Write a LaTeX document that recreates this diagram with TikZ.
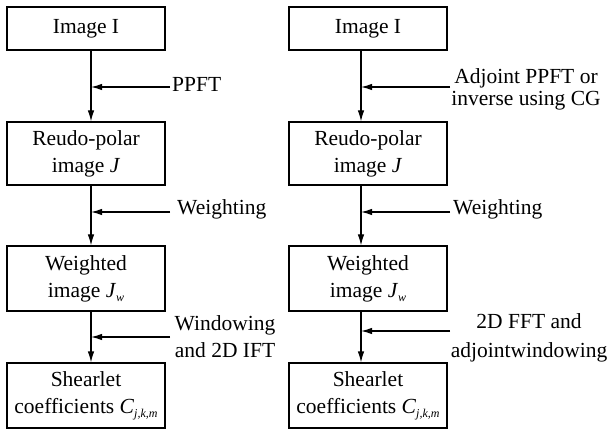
\documentclass[tikz,border=0pt]{standalone}
\usepackage{fontspec}
\setmainfont{Liberation Serif}
\usetikzlibrary{arrows.meta}
\newcommand{\subsc}[1]{\raisebox{-0.4ex}{\fontsize{12}{12}\selectfont\textit{#1}}}
\begin{document}
\begin{tikzpicture}[x=1pt,y=-1pt,
  box/.style={draw,line width=1.2pt,inner sep=0pt,align=center,
    font=\fontsize{21.5}{27}\selectfont,minimum width=158pt},
  lbl/.style={inner sep=0pt,align=center,font=\fontsize{21.5}{27}\selectfont},
  conn/.style={line width=1.2pt,-{Latex[length=11pt,width=6.5pt]}}]
\useasboundingbox[fill=white] (0,0) rectangle (607,430);
% left column
\node[box,minimum height=43pt] (l1) at (86,28.5) {Image I};
\node[box,minimum height=63pt] (l2) at (86,153.5) {Reudo-polar\\image \textit{J}};
\node[box,minimum height=65pt] (l3) at (86,278.5) {Weighted\\image \textit{J}\subsc{w}};
\node[box,minimum height=65pt] (l4) at (86,395.5) {Shearlet\\coefficients \textit{C}\subsc{j,k,m}};
% right column
\node[box,minimum height=43pt] (r1) at (368,28.5) {Image I};
\node[box,minimum height=63pt] (r2) at (368,153.5) {Reudo-polar\\image \textit{J}};
\node[box,minimum height=65pt] (r3) at (368,278.5) {Weighted\\image \textit{J}\subsc{w}};
\node[box,minimum height=65pt] (r4) at (368,395.5) {Shearlet\\coefficients \textit{C}\subsc{j,k,m}};
% column lines
\coordinate (lx) at (91,0);
\coordinate (rx) at (361,0);
\draw[conn] (l1.south -| lx) -- (l2.north -| lx);
\draw[conn] (l2.south -| lx) -- (l3.north -| lx);
\draw[conn] (l3.south -| lx) -- (l4.north -| lx);
\draw[conn] (r1.south -| rx) -- (r2.north -| rx);
\draw[conn] (r2.south -| rx) -- (r3.north -| rx);
\draw[conn] (r3.south -| rx) -- (r4.north -| rx);
% left labels
\node[lbl,anchor=west] (t1) at (172,84) {PPFT};
\node[lbl,anchor=west] (t2) at (177,209) {Weighting};
\node[lbl,font=\fontsize{21.5}{27}\selectfont] (t3) at (225,337) {Windowing\\and 2D IFT};
\coordinate (a1) at (170,87);
\coordinate (a2) at (170,212);
\coordinate (a3) at (170,337);
\draw[conn] (a1) -- (a1 -| lx);
\draw[conn] (a2) -- (a2 -| lx);
\draw[conn] (a3) -- (a3 -| lx);
% right labels
\node[lbl,font=\fontsize{21.5}{22}\selectfont] (s1) at (526,89) {Adjoint PPFT or\\inverse using CG};
\node[lbl,anchor=west] (s2) at (453,209) {Weighting};
\node[lbl,font=\fontsize{21.5}{29}\selectfont] (s3) at (529,337.5) {2D FFT and\\adjointwindowing};
\coordinate (b1) at (450,87);
\coordinate (b2) at (450,212);
\coordinate (b3) at (450,331);
\draw[conn] (b1) -- (b1 -| rx);
\draw[conn] (b2) -- (b2 -| rx);
\draw[conn] (b3) -- (b3 -| rx);
\end{tikzpicture}
\end{document}
